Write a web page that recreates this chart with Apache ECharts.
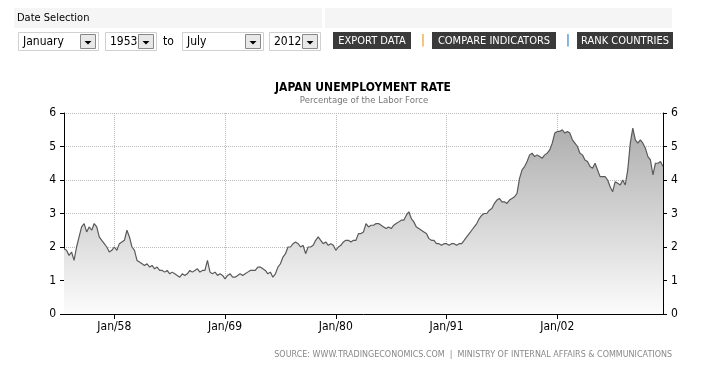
<!DOCTYPE html>
<html><head><meta charset="utf-8">
<script src="https://cdn.jsdelivr.net/npm/echarts@6/dist/echarts.min.js"></script>
<style>html,body{margin:0;padding:0;background:#fff}#c{width:702px;height:375px}</style>
</head><body><div id="c"></div>
<script>
// ---- data (quarterly readings, Jan 1953 .. Jul 2012) ----
const startYear = 1953;
const stepYears = 0.25;
const rates = [
 1.95,1.9,1.75,1.85, 1.6,2.0,2.3,2.6, 2.7,2.45,2.6,2.5, 2.7,2.6,2.3,2.2,
 2.1,2.0,1.85,1.9, 2.0,1.9,2.1,2.15, 2.2,2.5,2.3,2.0, 1.9,1.6,1.55,1.5,
 1.45,1.5,1.4,1.45, 1.35,1.4,1.3,1.3, 1.25,1.3,1.2,1.25, 1.2,1.15,1.1,1.2,
 1.15,1.2,1.3,1.25, 1.3,1.35,1.25,1.3, 1.3,1.6,1.25,1.2, 1.25,1.15,1.2,1.15,
 1.05,1.15,1.2,1.1, 1.1,1.15,1.2,1.15, 1.2,1.25,1.3,1.3, 1.3,1.4,1.4,1.35,
 1.3,1.2,1.25,1.1, 1.2,1.4,1.5,1.7, 1.8,2.0,2.0,2.1, 2.15,2.1,2.0,2.05,
 1.8,2.0,2.0,2.05, 2.2,2.3,2.2,2.1, 2.15,2.05,2.1,2.05, 1.9,2.0,2.05,2.15,
 2.2,2.2,2.15,2.2, 2.2,2.4,2.4,2.45, 2.7,2.6,2.65,2.65, 2.7,2.7,2.65,2.6,
 2.55,2.6,2.55,2.65, 2.7,2.75,2.8,2.8, 2.95,3.05,2.85,2.75, 2.6,2.55,2.5,2.45,
 2.4,2.25,2.2,2.2, 2.1,2.1,2.05,2.1, 2.1,2.05,2.1,2.1, 2.05,2.1,2.1,2.2,
 2.3,2.4,2.5,2.6, 2.7,2.85,2.95,3.0, 3.0,3.1,3.15,3.3, 3.4,3.45,3.35,3.35,
 3.3,3.4,3.45,3.5, 3.6,4.05,4.3,4.4, 4.55,4.75,4.8,4.7, 4.75,4.7,4.65,4.75,
 4.8,4.9,5.1,5.4, 5.45,5.45,5.5,5.4, 5.45,5.4,5.2,5.1, 5.0,4.8,4.75,4.6,
 4.55,4.4,4.35,4.5, 4.3,4.1,4.1,4.1, 4.0,3.8,3.65,3.95, 3.9,3.85,4.0,3.85,
 4.3,5.1,5.55,5.2, 5.1,5.2,5.1,4.95, 4.7,4.6,4.15,4.5, 4.5,4.55,4.4
];
const xTickYears = [1958, 1969, 1980, 1991, 2002];
const yMin = 0, yMax = 6, yStep = 1;
const titleText = 'JAPAN UNEMPLOYMENT RATE';
const subtitleText = 'Percentage of the Labor Force';
const sourceText = 'SOURCE: WWW.TRADINGECONOMICS.COM  |  MINISTRY OF INTERNAL AFFAIRS & COMMUNICATIONS';
const monthsSel = ['January', 'July'];
const yearsSel = ['1953', '2012'];
const buttons = ['EXPORT DATA', 'COMPARE INDICATORS', 'RANK COUNTRIES'];

const seriesData = rates.map((v, i) => [startYear + i * stepYears, v]);
const F = '"DejaVu Sans Condensed","DejaVu Sans",sans-serif';

function dropdown(x, w, label) {
  const y = 32, h = 18;
  return [
    {type:'rect', shape:{x:x+0.5, y:y+0.5, width:w, height:h}, style:{fill:'#fff', stroke:'#d0d0d0', lineWidth:1}},
    {type:'text', x:x+5, y:y+h/2+1, style:{text:label, fill:'#000', font:'12px '+F, verticalAlign:'middle'}},
    {type:'rect', shape:{x:x+w-17.5, y:y+2.5, width:15, height:14}, style:{fill:'#e8e8e8', stroke:'#888', lineWidth:1}},
    {type:'polygon', shape:{points:[[x+w-13.5,y+9],[x+w-6.5,y+9],[x+w-10,y+12.5]]}, style:{fill:'#000'}}
  ];
}
function button(x, w, label) {
  return [
    {type:'rect', shape:{x:x, y:32, width:w, height:17}, style:{fill:'#3a3a3a'}},
    {type:'text', x:x+w/2, y:41, style:{text:label, fill:'#fff', font:'11px '+F, align:'center', verticalAlign:'middle'}}
  ];
}
const graphics = [
  {type:'rect', shape:{x:14, y:8, width:308, height:20}, style:{fill:'#f5f5f5'}},
  {type:'rect', shape:{x:325, y:8, width:347, height:20}, style:{fill:'#f5f5f5'}},
  {type:'text', x:17, y:18, style:{text:'Date Selection', fill:'#000', font:'11px '+F, verticalAlign:'middle'}},
  ...dropdown(18, 80, monthsSel[0]),
  ...dropdown(105, 51, yearsSel[0]),
  {type:'text', x:163, y:42, style:{text:'to', fill:'#000', font:'12px '+F, verticalAlign:'middle'}},
  ...dropdown(182, 81, monthsSel[1]),
  ...dropdown(269, 51, yearsSel[1]),
  ...button(333, 78, buttons[0]),
  {type:'text', x:423, y:41, style:{text:'|', fill:'#f0a030', font:'bold 12px '+F, align:'center', verticalAlign:'middle'}},
  ...button(432, 124, buttons[1]),
  {type:'text', x:568, y:41, style:{text:'|', fill:'#3a8ad0', font:'bold 12px '+F, align:'center', verticalAlign:'middle'}},
  ...button(577, 96, buttons[2]),
  {type:'text', x:363, y:88, style:{text:titleText, fill:'#000', font:'bold 12px '+F, align:'center', verticalAlign:'middle'}},
  {type:'text', x:364, y:101, style:{text:subtitleText, fill:'#777', font:'9.5px '+F, align:'center', verticalAlign:'middle'}},
  {type:'text', x:672, y:355, style:{text:sourceText, fill:'#888', font:'8px "DejaVu Sans",sans-serif', align:'right', verticalAlign:'middle'}}
];

const chart = echarts.init(document.getElementById('c'), null, {renderer:'canvas'});
const yAxisBase = {
  type:'value', min:yMin, max:yMax, interval:yStep,
  axisLine:{show:true, lineStyle:{color:'#000', width:1}},
  axisTick:{show:true, length:4, lineStyle:{color:'#000'}},
  axisLabel:{color:'#000', fontSize:12, fontFamily:F, margin:8}
};
chart.setOption({
  animation:false,
  grid:{left:64, right:39, top:113, bottom:61, containLabel:false},
  xAxis:{
    type:'value', min:startYear, max:startYear + (rates.length-1)*stepYears,
    axisLine:{lineStyle:{color:'#000', width:1}},
    axisTick:{show:true, length:5, customValues:xTickYears, lineStyle:{color:'#000'}},
    axisLabel:{customValues:xTickYears, color:'#000', fontSize:12, fontFamily:F, margin:7,
      formatter:v => 'Jan/' + String(Math.round(v)).slice(2)},
    splitLine:{show:true, lineStyle:{type:'dotted', color:'#bbb'}}
  },
  yAxis:[
    Object.assign({}, yAxisBase, {position:'left', splitLine:{show:true, lineStyle:{type:'dotted', color:'#bbb'}}}),
    Object.assign({}, yAxisBase, {position:'right', splitLine:{show:false}})
  ],
  series:[{
    type:'line', data:seriesData, showSymbol:false, symbol:'none',
    lineStyle:{color:'#5a5a5a', width:1.2},
    areaStyle:{color:{type:'linear', x:0, y:113, x2:0, y2:314, global:true,
      colorStops:[{offset:0, color:'#a8a8a8'}, {offset:1, color:'#fcfcfc'}]}, opacity:1}
  }],
  graphic:graphics
});
</script></body></html>
